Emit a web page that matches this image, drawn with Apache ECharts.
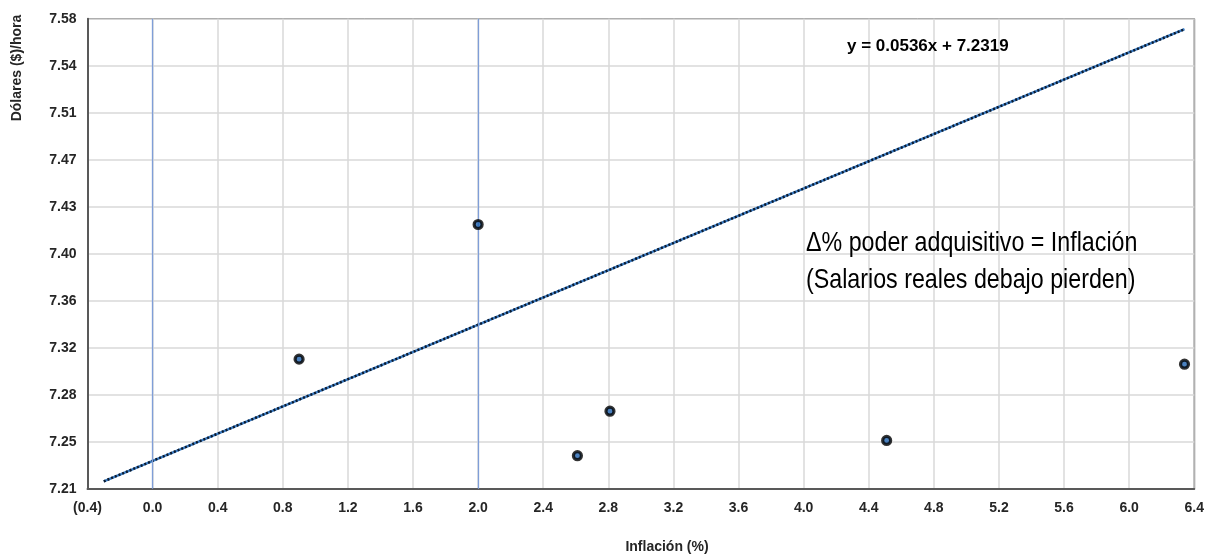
<!DOCTYPE html>
<html>
<head>
<meta charset="utf-8">
<script src="https://cdn.jsdelivr.net/npm/echarts@6/dist/echarts.min.js"></script>
<style>html,body{margin:0;padding:0;background:#fff}#c{width:1207px;height:555px}</style>
</head>
<body>
<div id="c"></div>
<script>
// Data
var inflacion = [0.90, 2.00, 2.61, 2.81, 4.51, 6.34];
var dolaresHora = [7.312, 7.418, 7.236, 7.271, 7.248, 7.308];
var trendX = [-0.30, 6.34];
var trendSlope = 0.0536, trendIntercept = 7.2319;
var refLinesX = [0.0, 2.0];
var yBase = 7.21, yStep = 0.037;
var yTickLabels = ['7.21','7.25','7.28','7.32','7.36','7.40','7.43','7.47','7.51','7.54','7.58'];

var scatterData = inflacion.map(function (x, i) { return [x, dolaresHora[i] - yBase]; });
var trendData = trendX.map(function (x) { return [x, trendSlope * x + trendIntercept - yBase]; });

var chart = echarts.init(document.getElementById('c'));
var labelFont = { fontFamily: 'Liberation Sans, Arial, sans-serif', fontWeight: 'bold', fontSize: 14, color: '#262626' };
var annFont = '28px Liberation Sans, Arial, sans-serif';
chart.setOption({
  animation: false,
  grid: { left: 87.5, right: 9, top: 18.7, bottom: 66.3, show: true, borderColor: '#000', borderWidth: 1 },
  xAxis: {
    type: 'value', min: -0.4, max: 6.4, interval: 0.4,
    axisLine: { show: true, onZero: false, lineStyle: { color: '#595959', width: 2 } },
    axisTick: { show: false },
    splitLine: { show: true, lineStyle: { color: '#d9d9d9', width: 1.5 } },
    axisLabel: Object.assign({ margin: 12, formatter: function (v) {
      var r = Math.round(v * 10) / 10;
      return r < 0 ? '(' + Math.abs(r).toFixed(1) + ')' : r.toFixed(1);
    } }, labelFont)
  },
  yAxis: {
    type: 'value', min: 0, max: yStep * 10, interval: yStep,
    axisLine: { show: true, onZero: false, lineStyle: { color: '#595959', width: 2 } },
    axisTick: { show: false },
    splitLine: { show: true, lineStyle: { color: '#d9d9d9', width: 1.5 } },
    axisLabel: Object.assign({ margin: 11, formatter: function (v) {
      return yTickLabels[Math.round(v / yStep)];
    } }, labelFont)
  },
  series: [
    { type: 'line', data: trendData, symbol: 'none', silent: true, z: 3,
      lineStyle: { color: '#3a7cc4', width: 2.5 } },
    { type: 'line', data: trendData, symbol: 'none', silent: true, z: 4,
      lineStyle: { color: '#0b1a2e', width: 2.5, type: [2, 2] },
      markLine: { silent: true, symbol: 'none', label: { show: false },
        lineStyle: { color: '#7f9ed8', width: 1.3, type: 'solid' },
        data: refLinesX.map(function (x) { return { xAxis: x }; }) } },
    { type: 'scatter', data: scatterData, symbolSize: 8, z: 5,
      itemStyle: { color: '#1f63b0', borderColor: '#000', borderWidth: 3.2 } }
  ],
  graphic: [
    { type: 'text', x: 17, y: 68, rotation: Math.PI / 2, z: 100,
      style: { text: 'Dólares ($)/hora', font: 'bold 14px Liberation Sans, Arial, sans-serif', fill: '#262626', align: 'center', verticalAlign: 'middle' } },
    { type: 'text', x: 667, y: 547, z: 100,
      style: { text: 'Inflación (%)', font: 'bold 14px Liberation Sans, Arial, sans-serif', fill: '#262626', align: 'center', verticalAlign: 'middle' } },
    { type: 'text', x: 847, y: 46, z: 100,
      style: { text: 'y = 0.0536x + 7.2319', font: 'bold 17px Liberation Sans, Arial, sans-serif', fill: '#000', align: 'left', verticalAlign: 'middle' } },
    { type: 'text', x: 806, y: 243, z: 100, scaleX: 0.83, originX: 0, originY: 0,
      style: { text: 'Δ% poder adquisitivo = Inflación', font: annFont, fill: '#000', align: 'left', verticalAlign: 'middle' } },
    { type: 'text', x: 806, y: 280, z: 100, scaleX: 0.83, originX: 0, originY: 0,
      style: { text: '(Salarios reales debajo pierden)', font: annFont, fill: '#000', align: 'left', verticalAlign: 'middle' } }
  ]
});
</script>
</body>
</html>
